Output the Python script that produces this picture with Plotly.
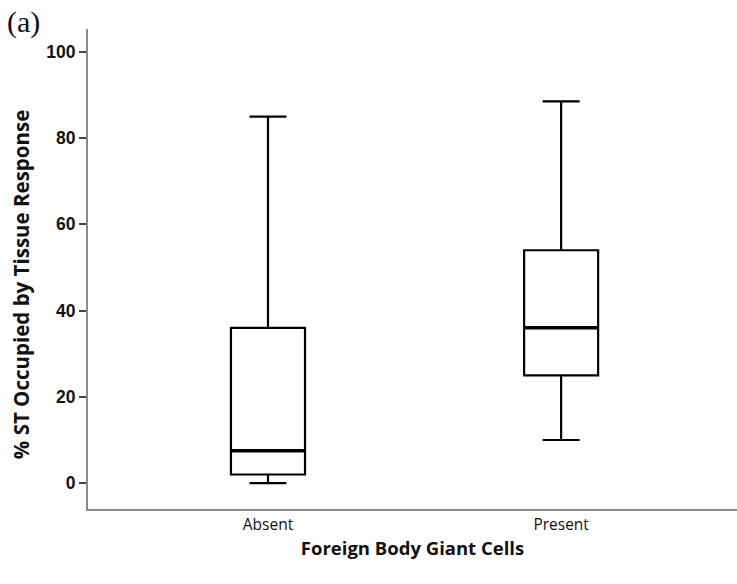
import plotly.graph_objects as go

categories = ["Absent", "Present"]
lower_whisker = [0, 10]
q1 = [2, 25]
median = [7.5, 36]
q3 = [36, 54]
upper_whisker = [85, 88.5]
y_ticks = [0, 20, 40, 60, 80, 100]

box_width = 0.2526

fig = go.Figure()
fig.add_trace(go.Box(
    x=[0, 1],
    q1=q1, median=median, q3=q3,
    lowerfence=lower_whisker, upperfence=upper_whisker,
    width=box_width, whiskerwidth=0.5,
    fillcolor="white",
    line=dict(color="black", width=2.2),
    boxpoints=False,
    hoverinfo="skip",
    showlegend=False,
))

# thicker median lines
for i, m in enumerate(median):
    fig.add_trace(go.Scatter(
        x=[i - box_width / 2, i + box_width / 2], y=[m, m],
        mode="lines", line=dict(color="black", width=3.5),
        showlegend=False, hoverinfo="skip",
    ))

fig.update_layout(
    width=737, height=584,
    margin=dict(l=88, r=0, t=29, b=75),
    paper_bgcolor="white", plot_bgcolor="white",
    showlegend=False,
)
fig.update_xaxes(
    range=[-0.614, 1.6],
    tickmode="array", tickvals=[0, 1], ticktext=categories,
    showline=True, linecolor="#8a8a8a", linewidth=2,
    ticks="", showgrid=False, zeroline=False,
    tickfont=dict(family="Open Sans", size=15.5, color="#111"),
    title=dict(text="<b>Foreign Body Giant Cells</b>",
               font=dict(family="Open Sans", size=18.5, color="#111"), standoff=8),
)
fig.update_yaxes(
    range=[-6.0, 105.3],
    tickmode="array", tickvals=y_ticks,
    showline=True, linecolor="#8a8a8a", linewidth=2,
    ticks="outside", ticklen=7, tickwidth=1.5, tickcolor="#444",
    showgrid=False, zeroline=False,
    tickfont=dict(family="Liberation Sans", size=17.5, color="#111", weight="bold"),
)
fig.add_annotation(
    text="<b>% ST Occupied by Tissue Response</b>", textangle=-90,
    x=-0.102, y=0.468, xref="paper", yref="paper",
    xanchor="center", yanchor="middle", showarrow=False,
    font=dict(family="Open Sans", size=20.5, color="#111"),
)
fig.add_annotation(
    text="(a)", x=-0.128, y=1.055, xref="paper", yref="paper",
    xanchor="left", yanchor="top", showarrow=False,
    font=dict(family="Liberation Serif", size=30, color="#111"),
)
fig.write_html("out.html")
